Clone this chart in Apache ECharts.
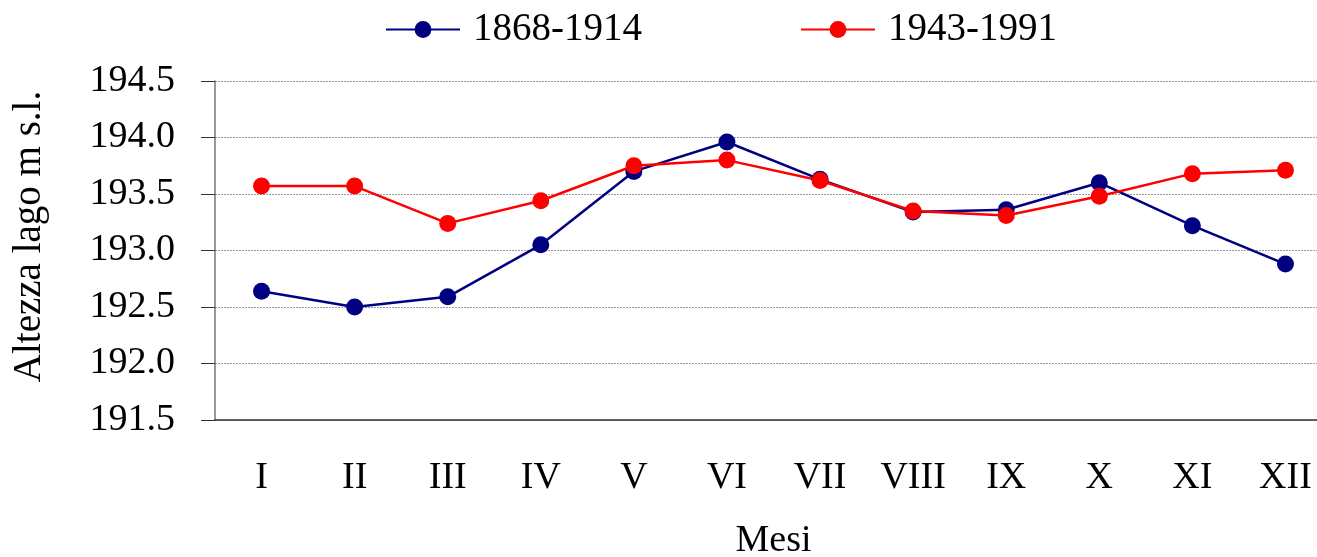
<!DOCTYPE html>
<html>
<head>
<meta charset="utf-8">
<script src="https://cdn.jsdelivr.net/npm/echarts@6/dist/echarts.min.js"></script>
<style>
  html, body { margin: 0; padding: 0; background: #fff; }
  #chart { width: 1317px; height: 557px; }
</style>
</head>
<body>
<div id="chart"></div>
<script>
// mesi e livelli medi del lago (m s.l.)
const mesi = ['I', 'II', 'III', 'IV', 'V', 'VI', 'VII', 'VIII', 'IX', 'X', 'XI', 'XII'];
const periodo1 = [192.64, 192.50, 192.59, 193.05, 193.70, 193.96, 193.63, 193.34, 193.36, 193.60, 193.22, 192.88];
const periodo2 = [193.57, 193.57, 193.24, 193.44, 193.75, 193.80, 193.62, 193.35, 193.31, 193.48, 193.68, 193.71];
const nomi = ['1868-1914', '1943-1991'];

const font = 'Liberation Serif';
let myChart = echarts.init(document.getElementById('chart'));
let option = {
  animation: false,
  legend: {
    left: 380,
    top: 5,
    itemWidth: 74,
    itemHeight: 21,
    itemGap: 158,
    textStyle: {
      fontFamily: font,
      fontSize: 39,
      color: '#000',
      padding: [0, 0, 0, 8]
    },
    data: nomi
  },
  grid: {
    left: 215,
    top: 81,
    width: 1117,
    height: 339,
    containLabel: false,
    outerBoundsMode: 'none'
  },
  xAxis: {
    type: 'category',
    data: mesi,
    name: 'Mesi',
    nameLocation: 'middle',
    nameGap: 102,
    nameTextStyle: { fontFamily: font, fontSize: 38, color: '#000' },
    axisLine: { lineStyle: { color: '#333', width: 1.5 } },
    axisTick: { length: 13, lineStyle: { color: '#333' } },
    axisLabel: { fontFamily: font, fontSize: 38, color: '#000', margin: 39 }
  },
  yAxis: {
    type: 'value',
    min: 191.5,
    max: 194.5,
    interval: 0.5,
    name: 'Altezza lago m s.l.',
    nameLocation: 'middle',
    nameGap: 166,
    nameTextStyle: { fontFamily: font, fontSize: 39, color: '#000', padding: [0, 0, 0, 28] },
    axisLine: { show: true, lineStyle: { color: '#777', width: 1.5 } },
    axisTick: { show: true, length: 14, lineStyle: { color: '#333' } },
    axisLabel: {
      fontFamily: font, fontSize: 38, color: '#000', margin: 40,
      formatter: function (v) { return v.toFixed(1); }
    },
    splitLine: { lineStyle: { color: '#999', type: [2, 1], width: 1 } }
  },
  series: [
    {
      name: nomi[0],
      type: 'line',
      data: periodo1,
      symbol: 'circle',
      symbolSize: 17,
      lineStyle: { color: '#000080', width: 2.5 },
      itemStyle: { color: '#000080' }
    },
    {
      name: nomi[1],
      type: 'line',
      data: periodo2,
      symbol: 'circle',
      symbolSize: 17,
      lineStyle: { color: '#ff0000', width: 2.5 },
      itemStyle: { color: '#ff0000' }
    }
  ]
};
myChart.setOption(option);
</script>
</body>
</html>
